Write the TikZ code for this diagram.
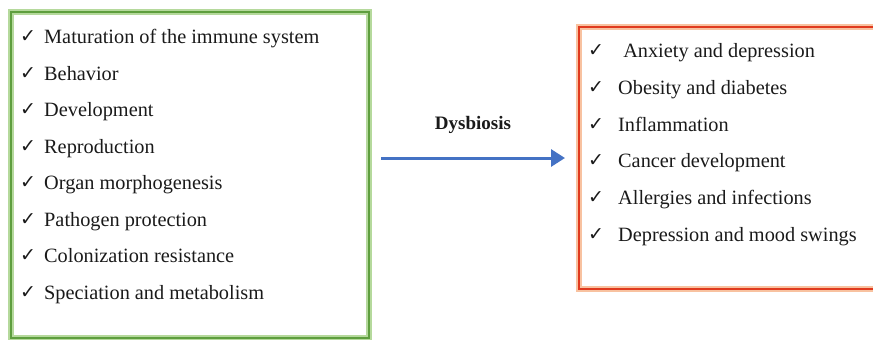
\documentclass[tikz,border=0pt]{standalone}
\usepackage{fontspec}
\setmainfont{Liberation Serif}
\newfontfamily\symfont{DejaVu Sans}
\usetikzlibrary{arrows.meta}
\definecolor{gdark}{HTML}{5E9E3E}
\definecolor{glight}{HTML}{B5D99C}
\definecolor{rdark}{HTML}{E03A1E}
\definecolor{rlight}{HTML}{F8C2A0}
\definecolor{arrowblue}{HTML}{4472C4}
\definecolor{txt}{HTML}{1A1A1A}
\tikzset{
  item/.style={anchor=base west, inner sep=0pt, font=\fontsize{20.3}{24}\selectfont, text=txt},
  tick/.style={anchor=base, inner sep=0pt, font=\symfont\fontsize{19}{22}\selectfont, text=txt},
}
\begin{document}
\begin{tikzpicture}[x=1pt,y=-1pt]
\useasboundingbox (0,0) rectangle (873,340);
\begin{scope}
\clip (0,0) rectangle (873,340);
% green box
\draw[glight, line width=6pt] (11,12) rectangle (369,338);
\draw[gdark, line width=2.6pt] (11,12) rectangle (369,338);
% red box
\draw[rlight, line width=6pt] (579,27) rectangle (885,289);
\draw[rdark, line width=2.8pt] (579,27) rectangle (885,289);
\end{scope}
% left list
\foreach \t [count=\i] in {Maturation of the immune system, Behavior, Development, Reproduction, Organ morphogenesis, Pathogen protection, Colonization resistance, Speciation and metabolism}{
  \node[tick] (lc\i) at (28, {36.5*\i+6}) {✓};
  \node[item] (lt\i) at (44, {36.5*\i+7}) {\t};
}
% right list
\foreach \t [count=\i] in {{\ Anxiety and depression}, Obesity and diabetes, Inflammation, Cancer development, Allergies and infections, Depression and mood swings}{
  \node[tick] (rc\i) at (596, {36.7*\i+20}) {✓};
  \node[item] (rt\i) at (618, {36.7*\i+21}) {\t};
}
% arrow
\coordinate (a1) at (381,158);
\coordinate (a2) at (565,158);
\draw[arrowblue, line width=3pt, -{Triangle[length=14pt,width=17pt]}] (a1) -- (a2);
\node[font=\bfseries\fontsize{19}{22}\selectfont, text=txt, inner sep=0pt] (dys) at (473,125) {Dysbiosis};
\end{tikzpicture}
\end{document}
